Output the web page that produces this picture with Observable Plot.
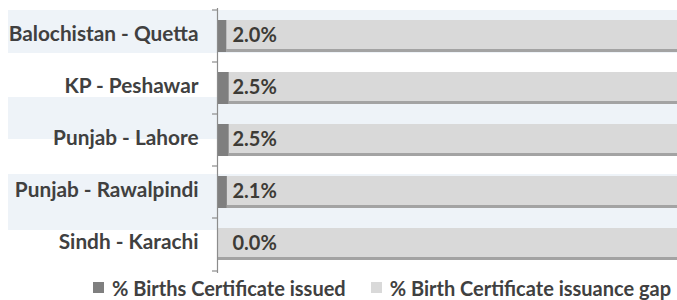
<!DOCTYPE html>
<html>
<head>
<meta charset="utf-8">
<script src="https://cdn.jsdelivr.net/npm/d3@7"></script>
<script src="https://cdn.jsdelivr.net/npm/@observablehq/plot@0.6"></script>
<style>
  html, body { margin: 0; padding: 0; background: #ffffff; }
  #chart { width: 677px; }
  .legend { display: flex; align-items: center; height: 25px; padding-left: 93px;
            font-family: Lato, "Open Sans", sans-serif; font-weight: bold; font-size: 20px; color: #404040; }
  .legend .sw { width: 11px; height: 11px; display: inline-block; margin-right: 8px; }
  .legend .item { display: flex; align-items: center; margin-right: 25px; white-space: nowrap; }
</style>
</head>
<body>
<div id="chart"></div>
<script>
const categories = ["Balochistan - Quetta", "KP - Peshawar", "Punjab - Lahore", "Punjab - Rawalpindi", "Sindh - Karachi"];
const issued = [2.0, 2.5, 2.5, 2.1, 0.0];
const gap = [98.0, 97.5, 97.5, 97.9, 100.0];
const seriesNames = ["% Births Certificate issued", "% Birth Certificate issuance gap"];
const seriesColors = ["#7f7f7f", "#d9d9d9"];

const rows = [];
categories.forEach((c, i) => {
  rows.push({category: c, series: seriesNames[0], value: issued[i]});
  rows.push({category: c, series: seriesNames[1], value: gap[i]});
});
const issuedRows = rows.filter(d => d.series === seriesNames[0]);

const font = {fontFamily: "Lato, 'Open Sans', sans-serif", fontWeight: "bold"};

const chart = Plot.plot({
  width: 677,
  height: 275,
  marginLeft: 8,
  marginRight: 0,
  marginTop: 8,
  marginBottom: 2,
  x: {domain: [0, 100], range: [217, 677], axis: null},
  y: {domain: categories, range: [8, 273], paddingInner: 0.377, paddingOuter: 0.19, axis: null},
  color: {domain: seriesNames, range: seriesColors},
  marks: [
    // alternating background stripes
    Plot.cell([categories[0]], {y: d => d, fill: "#eef3f8", insetTop: -10, insetBottom: -1}),
    Plot.cell([categories[2]], {y: d => d, fill: "#eef3f8", insetTop: -27, insetBottom: 17}),
    Plot.cell([categories[3]], {y: d => d, fill: "#eef3f8", insetTop: -2, insetBottom: -22}),
    // bar shadow
    Plot.barX(rows, Plot.stackX({y: "category", x: "value", z: "series", fill: "#a3a3a3", order: seriesNames})),
    // bars
    Plot.barX(rows, Plot.stackX({y: "category", x: "value", fill: "series", order: seriesNames, insetBottom: 3})),
    Plot.barX(issuedRows, Plot.stackX({y: "category", x: "value", fill: "series"})),
    // axis line and ticks
    Plot.ruleX([0], {stroke: "#8c8c8c", strokeWidth: 1.2}),
    Plot.ruleY(categories, {y: d => d, x1: 0, x2: 0, insetLeft: -5, dy: -26.5, stroke: "#8c8c8c", strokeWidth: 1.2}),
    Plot.ruleY([categories[categories.length - 1]], {y: d => d, x1: 0, x2: 0, insetLeft: -5, dy: 26.5, stroke: "#8c8c8c", strokeWidth: 1.2}),
    // category labels
    Plot.text(categories, {y: d => d, x: 0, text: d => d, dx: -19, dy: -2, textAnchor: "end", fontSize: 20.8, fill: "#404040", ...font}),
    // value labels
    Plot.text(issuedRows, {y: "category", x: 0, text: d => d.value.toFixed(1) + "%", dx: 15, dy: -1, textAnchor: "start", fontSize: 20, fill: "#3d3b36", ...font})
  ]
});
document.getElementById("chart").appendChild(chart);

const legend = document.createElement("div");
legend.className = "legend";
seriesNames.forEach((name, i) => {
  const item = document.createElement("span");
  item.className = "item";
  const sw = document.createElement("span");
  sw.className = "sw";
  sw.style.background = seriesColors[i];
  item.appendChild(sw);
  item.appendChild(document.createTextNode(name));
  legend.appendChild(item);
});
document.getElementById("chart").appendChild(legend);
</script>
</body>
</html>
